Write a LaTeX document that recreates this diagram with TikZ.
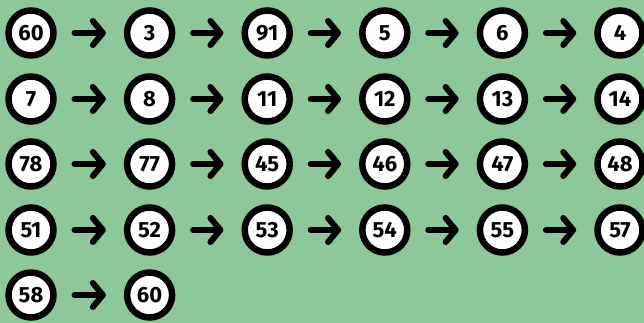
\documentclass[tikz,border=0pt]{standalone}
\usepackage{fontspec}
\setmainfont{Fira Sans}
\usetikzlibrary{arrows.meta}
\definecolor{bg}{RGB}{142,199,154}
\begin{document}
\begin{tikzpicture}[x=1pt,y=-1pt,
  num/.style={circle,draw=black,fill=white,line width=6.5pt,minimum size=45pt,inner sep=0pt,
    font=\fontsize{22}{22}\selectfont\bfseries},
  link/.style={line width=6.5pt,line cap=round,shorten <=18pt,shorten >=18pt,
    -{Straight Barb[length=10pt,width=24pt,line width=6pt,round]}}]
\fill[bg] (0,0) rectangle (644,323);
\useasboundingbox (0,0) rectangle (644,323);
% row 1
\node[num] (a1) at (31,33) {60};
\node[num] (a2) at (149.6,33) {3};
\node[num] (a3) at (267.2,33) {91};
\node[num] (a4) at (384.8,33) {5};
\node[num] (a5) at (502.4,33) {6};
\node[num] (a6) at (620,33) {4};
% row 2
\node[num] (b1) at (31,99) {7};
\node[num] (b2) at (149.6,99) {8};
\node[num] (b3) at (267.2,99) {11};
\node[num] (b4) at (384.8,99) {12};
\node[num] (b5) at (502.4,99) {13};
\node[num] (b6) at (620,99) {14};
% row 3
\node[num] (c1) at (31,164) {78};
\node[num] (c2) at (149.6,164) {77};
\node[num] (c3) at (267.2,164) {45};
\node[num] (c4) at (384.8,164) {46};
\node[num] (c5) at (502.4,164) {47};
\node[num] (c6) at (620,164) {48};
% row 4
\node[num] (d1) at (31,230) {51};
\node[num] (d2) at (149.6,230) {52};
\node[num] (d3) at (267.2,230) {53};
\node[num] (d4) at (384.8,230) {54};
\node[num] (d5) at (502.4,230) {55};
\node[num] (d6) at (620,230) {57};
% row 5
\node[num] (e1) at (31,295) {58};
\node[num] (e2) at (149.6,295) {60};
\foreach \r in {a,b,c,d}{
  \foreach \i [evaluate=\i as \j using int(\i+1)] in {1,...,5}{
    \draw[link] (\r\i) -- (\r\j);
  }
}
\draw[link] (e1) -- (e2);
\end{tikzpicture}
\end{document}
